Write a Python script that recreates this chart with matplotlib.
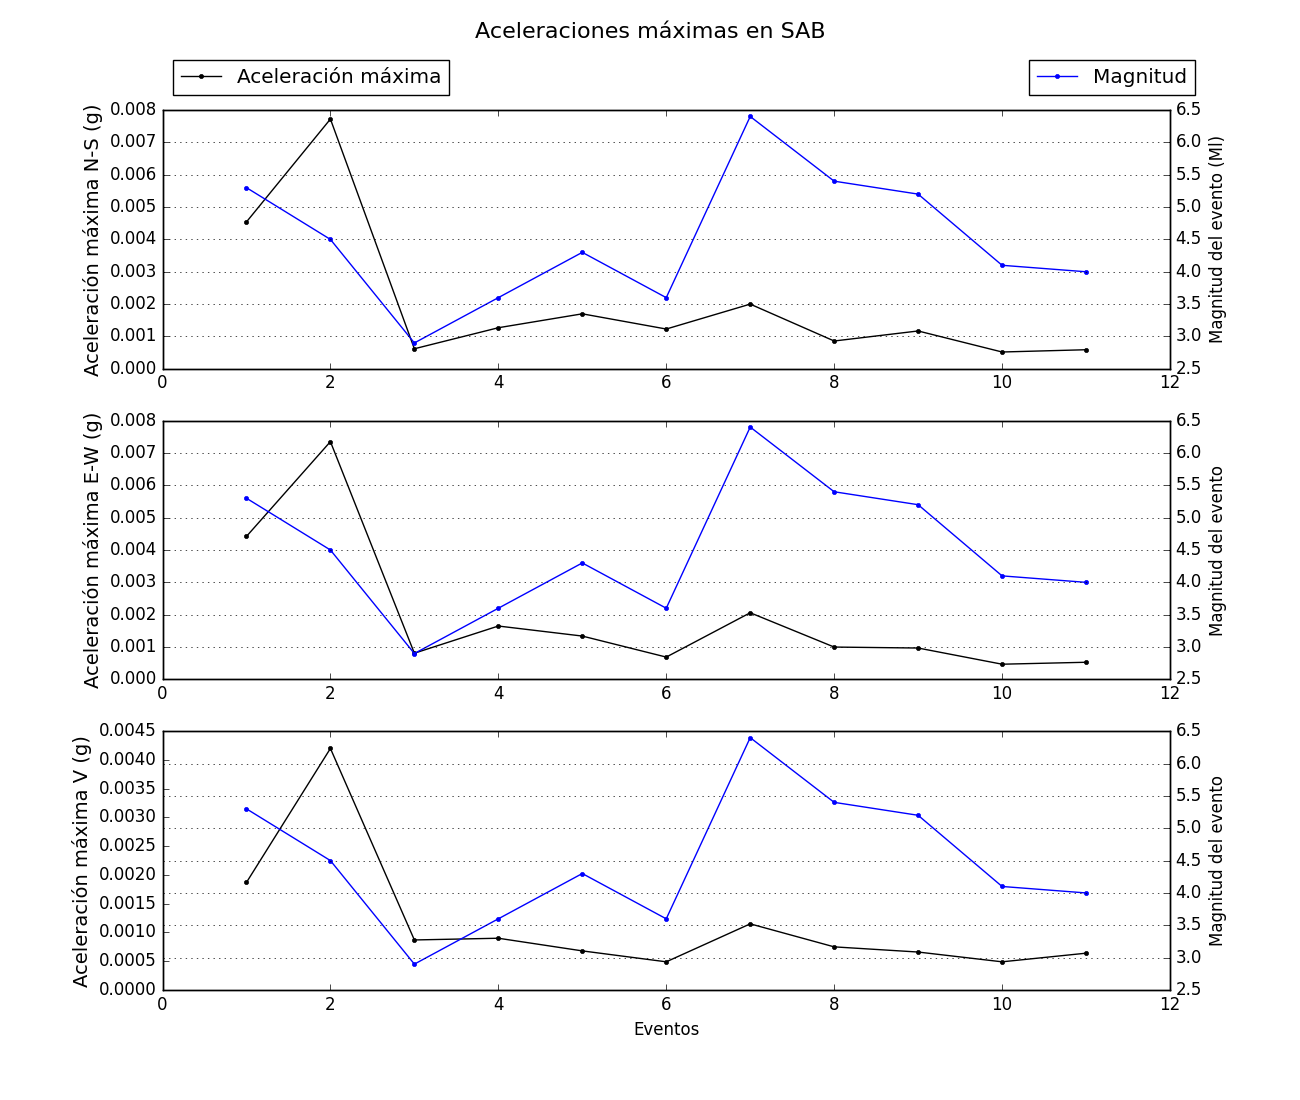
import numpy as np
import matplotlib
matplotlib.use('Agg')
from matplotlib import pyplot as plt

plt.style.use('classic')

eventos = [1, 2, 3, 4, 5, 6, 7, 8, 9, 10, 11]
magnitud = [5.3, 4.5, 2.9, 3.6, 4.3, 3.6, 6.4, 5.4, 5.2, 4.1, 4.0]
acel_ns = [0.00454, 0.00772, 0.00062, 0.00127, 0.00170, 0.00123, 0.00200,
           0.00086, 0.00117, 0.00052, 0.00059]
acel_ew = [0.00442, 0.00735, 0.00081, 0.00165, 0.00134, 0.00069, 0.00206,
           0.00100, 0.00097, 0.00047, 0.00053]
acel_v = [0.00187, 0.00420, 0.00087, 0.00090, 0.00068, 0.00049, 0.00115,
          0.00075, 0.00066, 0.00049, 0.00064]

componentes = [acel_ns, acel_ew, acel_v]
etiquetas_izq = ['Aceleración máxima N-S (g)', 'Aceleración máxima E-W (g)',
                 'Aceleración máxima V (g)']
etiquetas_der = ['Magnitud del evento (Ml)', 'Magnitud del evento',
                 'Magnitud del evento']
limites = [0.008, 0.008, 0.0045]

fig = plt.figure(figsize=(13, 11), dpi=100)
fig.suptitle('Aceleraciones máximas en SAB', fontsize=16)

for i in range(3):
    ax = fig.add_subplot(3, 1, i + 1)
    l1, = ax.plot(eventos, componentes[i], color='black', marker='.',
                  label='Aceleración máxima')
    ax.set_xlim(0, 12)
    ax.set_ylim(0, limites[i])
    ax.set_ylabel(etiquetas_izq[i], fontsize=14)
    ax2 = ax.twinx()
    l2, = ax2.plot(eventos, magnitud, color='blue', marker='.', label='Magnitud')
    ax2.set_ylim(2.5, 6.5)
    ax2.set_ylabel(etiquetas_der[i], fontsize=12)
    ax2.grid(True, axis='y')
    if i == 0:
        ax.legend(handles=[l1], loc='lower left', bbox_to_anchor=(0.01, 1.058),
                  borderaxespad=0, numpoints=1, fontsize=14.4)
        ax2.legend(handles=[l2], loc='lower right', bbox_to_anchor=(1.025, 1.058),
                   borderaxespad=0, numpoints=1, fontsize=14.4)
    if i == 2:
        ax.set_xlabel('Eventos', fontsize=12)

plt.savefig('out.png', dpi=100)
